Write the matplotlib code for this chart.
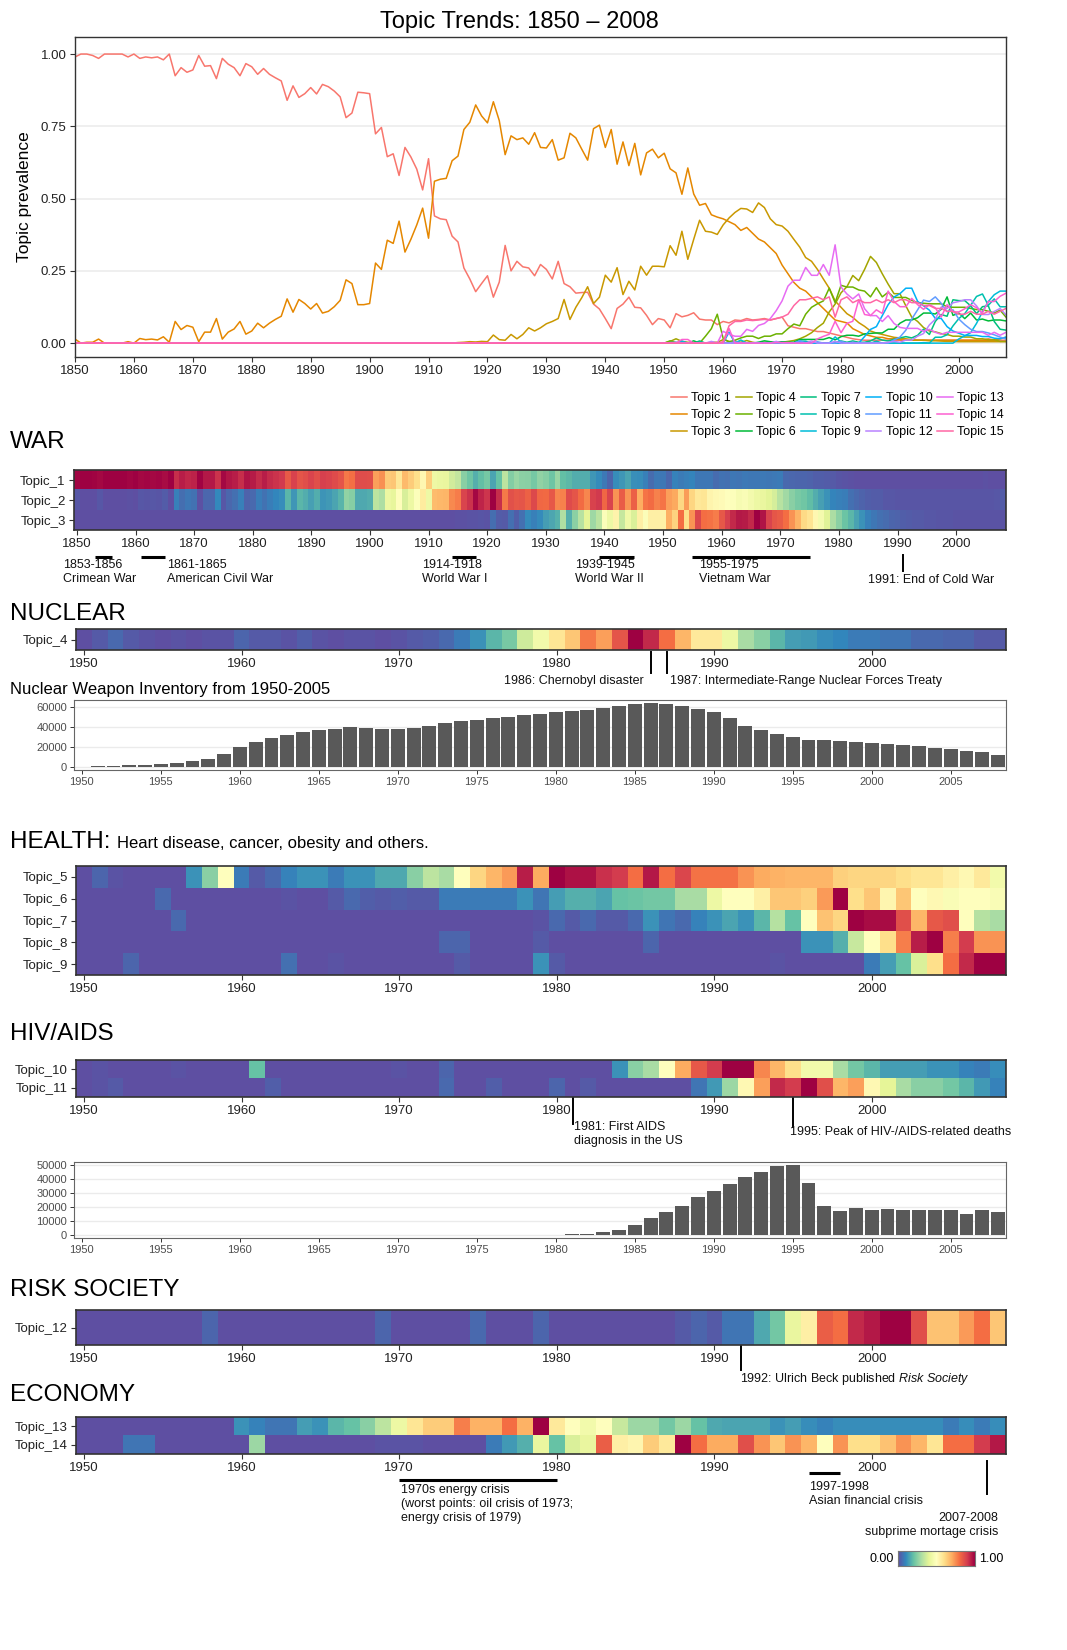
import numpy as np
import matplotlib
matplotlib.use("Agg")
import matplotlib.pyplot as plt
import matplotlib.transforms as mtransforms

plt.rcParams['font.family'] = ['Liberation Sans', 'DejaVu Sans']
plt.rcParams['mathtext.fontset'] = 'custom'
plt.rcParams['mathtext.rm'] = 'Liberation Sans'
plt.rcParams['mathtext.it'] = 'Liberation Sans:italic'

years_all = list(range(1850, 2009))
years_late = list(range(1950, 2009))

# topic prevalence 1850-2008
topic_1 = [0.99, 1.0, 1.0, 0.995, 0.985, 1.0, 1.0, 1.0, 1.0, 0.99,
           1.0, 0.985, 0.99, 0.987, 0.99, 0.98, 1.0, 0.925, 0.953, 0.937,
           0.945, 0.995, 0.958, 0.96, 0.915, 0.985, 0.965, 0.953, 0.925, 0.967,
           0.956, 0.93, 0.95, 0.93, 0.918, 0.907, 0.84, 0.89, 0.85, 0.863,
           0.884, 0.862, 0.895, 0.887, 0.872, 0.852, 0.78, 0.796, 0.868, 0.866,
           0.863, 0.724, 0.746, 0.645, 0.655, 0.58, 0.677, 0.644, 0.602, 0.53,
           0.638, 0.44, 0.43, 0.427, 0.37, 0.35, 0.26, 0.222, 0.178, 0.206,
           0.233, 0.159, 0.211, 0.338, 0.25, 0.283, 0.264, 0.26, 0.233, 0.272,
           0.255, 0.222, 0.283, 0.206, 0.195, 0.173, 0.175, 0.176, 0.135, 0.118,
           0.085, 0.05, 0.12, 0.135, 0.159, 0.124, 0.122, 0.096, 0.064, 0.085,
           0.08, 0.053, 0.102, 0.091, 0.096, 0.105, 0.083, 0.08, 0.08, 0.064,
           0.075, 0.07, 0.08, 0.078, 0.085, 0.08, 0.082, 0.085, 0.08, 0.085,
           0.09, 0.06, 0.055, 0.05, 0.05, 0.045, 0.04, 0.04, 0.035, 0.03,
           0.025, 0.02, 0.015, 0.012, 0.01, 0.01, 0.01, 0.01, 0.01, 0.01,
           0.01, 0.01, 0.01, 0.01, 0.01, 0.01, 0.01, 0.01, 0.01, 0.01,
           0.01, 0.01, 0.01, 0.01, 0.01, 0.015, 0.01, 0.01, 0.01]
topic_2 = [0.014, 0.0, 0.003, 0.003, 0.014, 0.0, 0.0, 0.0, 0.0, 0.005,
           0.0, 0.016, 0.012, 0.014, 0.011, 0.022, 0.003, 0.075, 0.047, 0.061,
           0.055, 0.005, 0.038, 0.038, 0.085, 0.014, 0.038, 0.049, 0.075, 0.031,
           0.042, 0.069, 0.053, 0.069, 0.082, 0.093, 0.153, 0.107, 0.151, 0.137,
           0.118, 0.137, 0.104, 0.11, 0.126, 0.148, 0.219, 0.206, 0.133, 0.133,
           0.137, 0.277, 0.255, 0.356, 0.345, 0.422, 0.315, 0.359, 0.409, 0.467,
           0.363, 0.56, 0.567, 0.57, 0.631, 0.647, 0.739, 0.764, 0.824, 0.786,
           0.762, 0.835, 0.77, 0.652, 0.717, 0.704, 0.71, 0.688, 0.728, 0.677,
           0.675, 0.704, 0.633, 0.641, 0.726, 0.71, 0.671, 0.633, 0.742, 0.754,
           0.677, 0.739, 0.619, 0.696, 0.614, 0.691, 0.582, 0.658, 0.671, 0.641,
           0.657, 0.603, 0.589, 0.515, 0.606, 0.516, 0.477, 0.483, 0.444, 0.436,
           0.43, 0.42, 0.41, 0.39, 0.4, 0.38, 0.36, 0.35, 0.33, 0.31,
           0.27, 0.24, 0.21, 0.19, 0.18, 0.16, 0.14, 0.12, 0.1, 0.08,
           0.075, 0.07, 0.05, 0.04, 0.03, 0.025, 0.02, 0.02, 0.015, 0.015,
           0.012, 0.01, 0.01, 0.01, 0.01, 0.01, 0.01, 0.01, 0.01, 0.01,
           0.01, 0.01, 0.01, 0.01, 0.01, 0.01, 0.01, 0.015, 0.02]
topic_3 = ([0.0] * 60 +
           [0.0, 0.0, 0.0, 0.0, 0.0, 0.002, 0.003, 0.005, 0.004, 0.006,
            0.005, 0.028, 0.012, 0.01, 0.03, 0.015, 0.03, 0.053, 0.042, 0.053,
            0.067, 0.075, 0.085, 0.151, 0.082, 0.124, 0.157, 0.195, 0.137, 0.159,
            0.235, 0.211, 0.261, 0.168, 0.214, 0.184, 0.266, 0.235, 0.266, 0.266,
            0.264, 0.337, 0.304, 0.387, 0.29, 0.359, 0.425, 0.387, 0.384, 0.376,
            0.409, 0.433, 0.452, 0.466, 0.464, 0.452, 0.485, 0.469, 0.43, 0.41,
            0.405, 0.387, 0.359, 0.332, 0.296, 0.283, 0.255, 0.222, 0.19, 0.146,
            0.124, 0.102, 0.089, 0.071, 0.058, 0.042, 0.035, 0.03, 0.025, 0.02,
            0.018, 0.015, 0.012, 0.01, 0.01, 0.008, 0.008, 0.007, 0.006, 0.006,
            0.005, 0.005, 0.005, 0.005, 0.005, 0.005, 0.005, 0.005, 0.005])

# topics 4-14, 1950-2008, as share of each topic's own peak
rel_4 = [0.0, 0.02, 0.05, 0.02, 0.01, 0.0, 0.01, 0.0, 0.01, 0.01,
         0.04, 0.02, 0.02, 0.01, 0.03, 0.01, 0.0, 0.01, 0.01, 0.0,
         0.01, 0.02, 0.03, 0.05, 0.08, 0.12, 0.18, 0.23, 0.36, 0.45,
         0.58, 0.65, 0.78, 0.72, 0.85, 1.0, 0.93, 0.8, 0.68, 0.57,
         0.57, 0.43, 0.3, 0.25, 0.18, 0.14, 0.13, 0.11, 0.1, 0.08,
         0.08, 0.07, 0.07, 0.05, 0.05, 0.04, 0.04, 0.02, 0.02]
rel_5 = [0.0, 0.04, 0.01, 0.0, 0.0, 0.0, 0.0, 0.12, 0.25, 0.5,
         0.08, 0.02, 0.05, 0.09, 0.12, 0.12, 0.08, 0.12, 0.12, 0.16,
         0.16, 0.25, 0.33, 0.3, 0.5, 0.62, 0.68, 0.73, 0.95, 0.7,
         1.0, 0.97, 0.97, 0.92, 0.9, 0.8, 0.96, 0.8, 0.88, 0.79,
         0.79, 0.79, 0.74, 0.7, 0.69, 0.68, 0.68, 0.68, 0.63, 0.62,
         0.62, 0.62, 0.6, 0.58, 0.58, 0.55, 0.52, 0.57, 0.45]
rel_6 = [0.0, 0.0, 0.0, 0.0, 0.0, 0.05, 0.0, 0.0, 0.0, 0.0,
         0.0, 0.0, 0.0, 0.01, 0.0, 0.0, 0.02, 0.05, 0.03, 0.02,
         0.03, 0.02, 0.02, 0.08, 0.08, 0.08, 0.08, 0.08, 0.12, 0.07,
         0.14, 0.17, 0.17, 0.15, 0.2, 0.21, 0.22, 0.22, 0.3, 0.3,
         0.43, 0.5, 0.5, 0.55, 0.65, 0.65, 0.63, 0.73, 1.0, 0.6,
         0.65, 0.53, 0.65, 0.5, 0.52, 0.48, 0.5, 0.5, 0.48]
rel_7 = [0.0, 0.0, 0.0, 0.0, 0.0, 0.0, 0.05, 0.0, 0.0, 0.0,
         0.0, 0.0, 0.0, 0.0, 0.0, 0.0, 0.0, 0.0, 0.0, 0.0,
         0.0, 0.0, 0.0, 0.0, 0.0, 0.0, 0.0, 0.0, 0.0, 0.01,
         0.05, 0.02, 0.05, 0.02, 0.02, 0.05, 0.12, 0.07, 0.05, 0.09,
         0.12, 0.15, 0.12, 0.18, 0.32, 0.2, 0.5, 0.66, 0.62, 1.0,
         0.98, 0.98, 0.86, 0.68, 0.84, 0.86, 0.5, 0.32, 0.3]
rel_8 = [0.0, 0.0, 0.0, 0.0, 0.0, 0.0, 0.0, 0.0, 0.0, 0.0,
         0.0, 0.0, 0.0, 0.0, 0.0, 0.0, 0.0, 0.0, 0.0, 0.0,
         0.0, 0.0, 0.0, 0.04, 0.04, 0.0, 0.0, 0.0, 0.0, 0.02,
         0.0, 0.0, 0.0, 0.0, 0.0, 0.0, 0.04, 0.0, 0.0, 0.0,
         0.0, 0.0, 0.0, 0.0, 0.0, 0.0, 0.12, 0.12, 0.17, 0.35,
         0.5, 0.6, 0.77, 0.95, 1.0, 0.77, 0.9, 0.74, 0.74]
rel_9 = [0.0, 0.0, 0.0, 0.04, 0.0, 0.0, 0.0, 0.0, 0.0, 0.0,
         0.0, 0.0, 0.0, 0.06, 0.0, 0.0, 0.01, 0.0, 0.0, 0.0,
         0.0, 0.0, 0.0, 0.0, 0.02, 0.0, 0.0, 0.0, 0.0, 0.12,
         0.02, 0.0, 0.0, 0.0, 0.0, 0.0, 0.0, 0.0, 0.0, 0.0,
         0.0, 0.0, 0.0, 0.0, 0.01, 0.0, 0.0, 0.0, 0.0, 0.0,
         0.08, 0.14, 0.2, 0.38, 0.6, 0.8, 0.93, 1.0, 1.0]
rel_10 = [0.0, 0.01, 0.0, 0.0, 0.0, 0.0, 0.01, 0.0, 0.0, 0.0,
          0.0, 0.2, 0.0, 0.0, 0.0, 0.0, 0.0, 0.0, 0.0, 0.0,
          0.01, 0.0, 0.0, 0.04, 0.0, 0.0, 0.0, 0.0, 0.0, 0.0,
          0.0, 0.0, 0.0, 0.0, 0.12, 0.25, 0.3, 0.5, 0.7, 0.84,
          0.9, 1.0, 1.0, 0.76, 0.68, 0.6, 0.45, 0.45, 0.3, 0.22,
          0.18, 0.14, 0.14, 0.14, 0.12, 0.12, 0.09, 0.08, 0.11]
rel_11 = [0.0, 0.01, 0.02, 0.0, 0.0, 0.0, 0.0, 0.0, 0.0, 0.0,
          0.0, 0.0, 0.03, 0.0, 0.0, 0.0, 0.0, 0.0, 0.0, 0.0,
          0.0, 0.0, 0.0, 0.05, 0.0, 0.0, 0.03, 0.0, 0.0, 0.0,
          0.04, 0.0, 0.02, 0.0, 0.0, 0.0, 0.0, 0.0, 0.0, 0.07,
          0.13, 0.28, 0.52, 0.72, 0.93, 0.9, 1.0, 0.86, 0.68, 0.72,
          0.52, 0.4, 0.3, 0.25, 0.25, 0.22, 0.18, 0.13, 0.09]
rel_12 = [0.0, 0.0, 0.0, 0.0, 0.0, 0.0, 0.0, 0.0, 0.04, 0.0,
          0.0, 0.0, 0.0, 0.0, 0.0, 0.0, 0.0, 0.0, 0.0, 0.04,
          0.0, 0.0, 0.0, 0.0, 0.0, 0.05, 0.0, 0.0, 0.0, 0.04,
          0.0, 0.0, 0.0, 0.0, 0.0, 0.0, 0.0, 0.0, 0.02, 0.04,
          0.02, 0.07, 0.07, 0.16, 0.22, 0.42, 0.55, 0.83, 0.8, 0.93,
          0.96, 1.0, 1.0, 0.86, 0.66, 0.66, 0.73, 0.8, 0.65]
rel_13 = [0.0, 0.0, 0.0, 0.0, 0.0, 0.0, 0.0, 0.0, 0.0, 0.0,
          0.12, 0.09, 0.07, 0.07, 0.14, 0.12, 0.18, 0.2, 0.25, 0.33,
          0.43, 0.58, 0.64, 0.64, 0.77, 0.69, 0.69, 0.8, 0.69, 1.0,
          0.57, 0.5, 0.45, 0.5, 0.35, 0.28, 0.28, 0.22, 0.28, 0.2,
          0.16, 0.15, 0.15, 0.15, 0.12, 0.14, 0.11, 0.09, 0.11, 0.11,
          0.11, 0.11, 0.11, 0.11, 0.11, 0.08, 0.11, 0.08, 0.11]
rel_14 = [0.0, 0.0, 0.0, 0.07, 0.07, 0.0, 0.0, 0.0, 0.0, 0.0,
          0.0, 0.28, 0.0, 0.0, 0.0, 0.0, 0.0, 0.0, 0.0, 0.01,
          0.01, 0.01, 0.0, 0.0, 0.0, 0.0, 0.08, 0.13, 0.17, 0.42,
          0.2, 0.38, 0.42, 0.83, 0.55, 0.53, 0.64, 0.57, 1.0, 0.8,
          0.7, 0.7, 0.86, 0.74, 0.65, 0.74, 0.68, 0.5, 0.74, 0.6,
          0.6, 0.66, 0.74, 0.68, 0.58, 0.8, 0.8, 0.9, 0.96]
peaks_4_14 = [0.30, 0.20, 0.16, 0.15, 0.17, 0.18, 0.19, 0.16, 0.15, 0.34, 0.18]

topic_15 = [0.0, 0.0, 0.0, 0.0, 0.0, 0.0, 0.0, 0.0, 0.0, 0.0,
            0.005, 0.06, 0.075, 0.075, 0.08, 0.078, 0.08, 0.082, 0.08, 0.085,
            0.09, 0.1, 0.13, 0.15, 0.15, 0.155, 0.16, 0.15, 0.16, 0.09,
            0.15, 0.16, 0.14, 0.15, 0.14, 0.14, 0.15, 0.14, 0.15, 0.14,
            0.15, 0.15, 0.14, 0.14, 0.13, 0.13, 0.12, 0.12, 0.11, 0.11,
            0.1, 0.1, 0.11, 0.1, 0.1, 0.11, 0.1, 0.11, 0.12]

nuclear_inventory = [300, 450, 850, 1400, 2000, 3000, 4000, 5500, 8000, 13000,
                     20000, 24700, 29000, 32500, 34700, 37300, 38300, 40300, 39600, 38600,
                     38300, 39600, 41500, 44500, 46700, 47700, 49400, 50600, 52000, 53600,
                     55800, 56500, 57500, 59400, 61400, 63300, 64300, 63000, 61000, 58800,
                     55200, 49400, 41600, 36700, 33100, 29900, 27600, 26900, 26000, 24700,
                     24000, 22700, 21800, 20800, 19500, 17500, 16200, 14900, 12300]
aids_deaths = ([0] * 30 +
               [0, 150, 600, 1600, 3500, 7000, 12000, 16500, 21000, 27500,
                31500, 36500, 41500, 45000, 49800, 50000, 37000, 21000, 17000, 19000,
                18000, 18700, 18000, 17800, 17800, 17500, 15000, 17500, 16500])

topic_colors = ['#F8766D', '#E58700', '#C99800', '#A3A500', '#6BB100', '#00BA38',
                '#00BF7D', '#00C0AF', '#00BCD8', '#00B0F6', '#619CFF', '#B983FF',
                '#E76BF3', '#FD61D1', '#FF67A4']

before_1950 = [0.0] * 100
rel_4_14 = [rel_4, rel_5, rel_6, rel_7, rel_8, rel_9, rel_10, rel_11, rel_12, rel_13, rel_14]
lines = [topic_1, topic_2, topic_3]
for rel, pk in zip(rel_4_14, peaks_4_14):
    lines.append(before_1950 + [v * pk for v in rel])
lines.append(before_1950 + topic_15)

W, H = 1067, 1650
fig = plt.figure(figsize=(W / 100, H / 100), dpi=100)
ov = fig.add_axes([0, 0, 1, 1])
ov.set_xlim(0, W)
ov.set_ylim(H, 0)
ov.axis('off')

DARK = '#333333'


def px_axes(l, t, r, b):
    return fig.add_axes([l / W, 1 - b / H, (r - l) / W, (b - t) / H])


def minmax(v):
    v = np.asarray(v, dtype=float)
    return (v - v.min()) / (v.max() - v.min())


def heatmap(box, rows, labels, first):
    ax = px_axes(*box)
    data = np.vstack([minmax(r) for r in rows])
    n = data.shape[1]
    ax.imshow(data, cmap='Spectral_r', vmin=0, vmax=1, aspect='auto',
              interpolation='nearest',
              extent=[first - 0.5, first + n - 0.5, len(rows) - 0.5, -0.5])
    ax.set_yticks(range(len(rows)))
    ax.set_yticklabels(labels)
    ax.set_xticks(range(first, 2001, 10))
    ax.tick_params(length=3.5, width=0.8, color=DARK, labelsize=9.5,
                   labelcolor='#222222', pad=2.5)
    for s in ax.spines.values():
        s.set_color(DARK)
        s.set_linewidth(1.2)
    return ax


def bar_panel(box, values, yticks):
    ax = px_axes(*box)
    ax.bar(years_late, values, width=0.88, color='#595959', zorder=2)
    ax.set_xlim(1949.5, 2008.5)
    top = max(values)
    ax.set_ylim(-0.05 * top, 1.05 * top)
    ax.set_yticks(yticks)
    ax.set_xticks(range(1950, 2006, 5))
    ax.yaxis.grid(True, color='#EBEBEB', lw=1.0)
    ax.set_axisbelow(True)
    ax.tick_params(length=3, width=0.7, color=DARK, labelsize=8,
                   labelcolor='#4D4D4D', pad=2)
    for s in ax.spines.values():
        s.set_color('#666666')
        s.set_linewidth(0.8)
    return ax


def section(y, title, sub=None):
    ov.text(10, y, title, fontsize=17.5, va='baseline')
    if sub:
        ov.text(117, y, sub, fontsize=12, va='baseline')


def mark_span(ax, x0, x1, y, lw=2.2):
    tr = mtransforms.blended_transform_factory(ax.transData, ov.transData)
    ov.plot([x0, x1], [y, y], color='black', lw=lw, transform=tr,
            clip_on=False, solid_capstyle='butt')


def mark_line(ax, x, y0, y1):
    tr = mtransforms.blended_transform_factory(ax.transData, ov.transData)
    ov.plot([x, x], [y0, y1], color='black', lw=1.4, transform=tr, clip_on=False)


def note(ax, x, y, s, ha='left'):
    tr = mtransforms.blended_transform_factory(ax.transData, ov.transData)
    ov.text(x, y, s, transform=tr, ha=ha, va='top', fontsize=9,
            linespacing=1.25, color='#111111')


# ---- line chart ----
ov.text(519, 28, 'Topic Trends: 1850 \u2013 2008', fontsize=17, ha='center', va='baseline')
ax = px_axes(75, 37, 1006, 357)
handles = []
for i, (vals, col) in enumerate(zip(lines, topic_colors)):
    h, = ax.plot(years_all, vals, color=col, lw=1.1, label='Topic %d' % (i + 1))
    handles.append(h)
ax.set_xlim(1850, 2008)
ax.set_ylim(-0.048, 1.059)
ax.set_yticks([0, 0.25, 0.5, 0.75, 1.0])
ax.set_yticklabels(['0.00', '0.25', '0.50', '0.75', '1.00'])
ax.set_xticks(range(1850, 2001, 10))
ax.yaxis.grid(True, color='#EBEBEB', lw=1.1)
ax.set_axisbelow(True)
ax.set_ylabel('Topic prevalence', fontsize=12.5, labelpad=6)
ax.tick_params(length=3.5, width=0.8, color=DARK, labelsize=9.5,
               labelcolor='#222222', pad=2.5)
for s in ax.spines.values():
    s.set_color(DARK)
    s.set_linewidth(1.0)
fig.legend(handles=handles, ncol=5, loc='upper right',
           bbox_to_anchor=(1004 / W, 1 - 392 / H), frameon=False, fontsize=9,
           handlelength=1.25, handletextpad=0.35, columnspacing=0.4,
           labelspacing=0.42, borderaxespad=0, borderpad=0)

# ---- WAR ----
section(448, 'WAR')
hw = heatmap((74, 470, 1006, 530), [topic_1, topic_2, topic_3],
             ['Topic_1', 'Topic_2', 'Topic_3'], 1850)
war_events = [(1853, 1856, '1853-1856\nCrimean War', 1847.6),
              (1861, 1865, '1861-1865\nAmerican Civil War', 1865.4),
              (1914, 1918, '1914-1918\nWorld War I', 1908.9),
              (1939, 1945, '1939-1945\nWorld War II', 1935.0),
              (1955, 1975, '1955-1975\nVietnam War', 1956.1)]
for x0, x1, lab, tx in war_events:
    mark_span(hw, x0, x1, 557)
    note(hw, tx, 559, lab)
mark_line(hw, 1991, 555, 571)
note(hw, 1985.0, 574, '1991: End of Cold War')

# ---- NUCLEAR ----
section(620, 'NUCLEAR')
rows_late = [l[100:] for l in lines]
hn = heatmap((76, 629, 1006, 650), [rows_late[3]], ['Topic_4'], 1950)
mark_line(hn, 1986, 652, 673)
mark_line(hn, 1987, 652, 673)
note(hn, 1985.5, 675, '1986: Chernobyl disaster', ha='right')
note(hn, 1987.2, 675, '1987: Intermediate-Range Nuclear Forces Treaty')
ov.text(10, 694, 'Nuclear Weapon Inventory from 1950-2005', fontsize=12, va='baseline')
bar_panel((74, 700, 1006, 770), nuclear_inventory, [0, 20000, 40000, 60000])

# ---- HEALTH ----
section(848, 'HEALTH:', 'Heart disease, cancer, obesity and others.')
heatmap((76, 866, 1006, 975), rows_late[4:9],
        ['Topic_5', 'Topic_6', 'Topic_7', 'Topic_8', 'Topic_9'], 1950)

# ---- HIV/AIDS ----
section(1040, 'HIV/AIDS')
hh = heatmap((76, 1060, 1006, 1097), rows_late[9:11], ['Topic_10', 'Topic_11'], 1950)
mark_line(hh, 1981, 1098, 1124)
note(hh, 1981.1, 1121, '1981: First AIDS\ndiagnosis in the US')
mark_line(hh, 1995, 1098, 1127)
note(hh, 1994.8, 1126, '1995: Peak of HIV-/AIDS-related deaths')
bar_panel((74, 1162, 1006, 1238), aids_deaths, [0, 10000, 20000, 30000, 40000, 50000])

# ---- RISK SOCIETY ----
section(1296, 'RISK SOCIETY')
hr = heatmap((76, 1310, 1006, 1345), [rows_late[11]], ['Topic_12'], 1950)
mark_line(hr, 1991.7, 1346, 1370)
note(hr, 1991.6, 1371, r'1992: Ulrich Beck published $\mathit{Risk\ Society}$')

# ---- ECONOMY ----
section(1401, 'ECONOMY')
he = heatmap((76, 1417, 1006, 1454), rows_late[12:14], ['Topic_13', 'Topic_14'], 1950)
mark_span(he, 1970, 1980, 1480)
note(he, 1970.1, 1484, '1970s energy crisis\n(worst points: oil crisis of 1973;\nenergy crisis of 1979)')
mark_span(he, 1996, 1998, 1473)
note(he, 1996, 1481, '1997-1998\nAsian financial crisis')
mark_line(he, 2007.3, 1461, 1494)
note(he, 2008.0, 1512, '2007-2008\nsubprime mortage crisis', ha='right')

# colour bar
cb = px_axes(898, 1551, 975, 1566)
cb.imshow(np.linspace(0, 1, 256).reshape(1, -1), cmap='Spectral_r', aspect='auto')
cb.set_xticks([])
cb.set_yticks([])
for s in cb.spines.values():
    s.set_color('#777777')
ov.text(894, 1559, '0.00', fontsize=9, ha='right', va='center')
ov.text(979, 1559, '1.00', fontsize=9, ha='left', va='center')

fig.savefig('out.png', dpi=100)
